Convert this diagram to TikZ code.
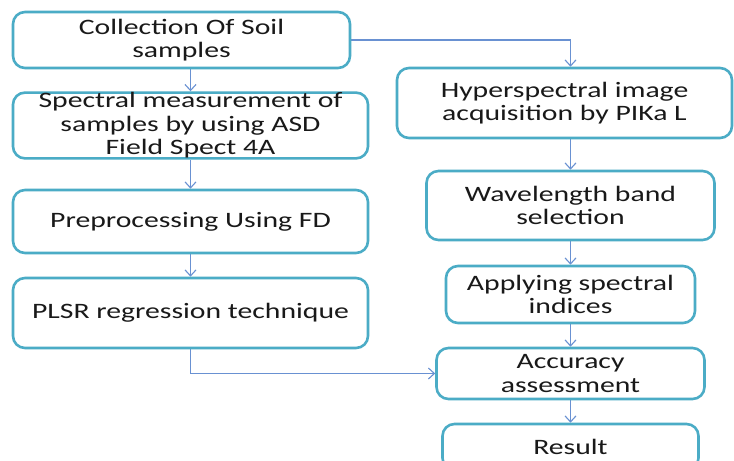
\documentclass[tikz,border=0pt]{standalone}
\usepackage{fontspec}
\setmainfont{Carlito}[FakeStretch=1.35]
\usepackage{tikz}
\usetikzlibrary{arrows.meta}
\definecolor{boxline}{RGB}{75,172,198}
\definecolor{flowline}{RGB}{105,145,210}
\tikzstyle{box}=[fill=white, draw=boxline, line width=2.6bp, rounded corners=12bp, align=center, inner sep=0pt, text=black!90, font=\fontsize{22bp}{23.5bp}\selectfont]
\tikzstyle{flow}=[-{Straight Barb[length=6bp,width=11bp]}, draw=flowline, line width=1.1bp]
\pgfdeclarelayer{nodelayer}
\pgfdeclarelayer{edgelayer}
\pgfsetlayers{main,edgelayer,nodelayer}

\begin{document}
\begin{tikzpicture}[x=1bp, y=-1bp]
	\fill [white] (0,0) rectangle (734,461);
	\useasboundingbox (0,0) rectangle (734,461);
	\begin{pgfonlayer}{nodelayer}
		\node [style=box, minimum width=337bp, minimum height=56bp] (1) at (181.5, 40) {Collection Of Soil\\samples};
		\node [style=box, minimum width=355bp, minimum height=63bp] (2) at (190.5, 125.5) {Spectral measurement of\\samples by using ASD\\Field Spect 4A};
		\node [style=box, minimum width=355bp, minimum height=63bp] (3) at (190.5, 221.5) {Preprocessing Using FD};
		\node [style=box, minimum width=355bp, minimum height=70bp] (4) at (190.5, 313) {PLSR regression technique};
		\node [style=box, minimum width=335bp, minimum height=70bp] (5) at (564.5, 103) {Hyperspectral image\\acquisition by PIKa L};
		\node [style=box, minimum width=288bp, minimum height=69bp] (6) at (570.5, 205.5) {Wavelength band\\selection};
		\node [style=box, minimum width=249bp, minimum height=57bp] (7) at (570.5, 294.5) {Applying spectral\\indices};
		\node [style=box, minimum width=268bp, minimum height=51bp] (8) at (570.5, 373.5) {Accuracy\\assessment};
		\node [style=box, minimum width=256bp, minimum height=46bp] (9) at (570.5, 447) {Result};
	\end{pgfonlayer}
	\begin{pgfonlayer}{edgelayer}
		\draw [style=flow] (2.north |- 1.south) -- (2.north);
		\draw [style=flow] (2) -- (3);
		\draw [style=flow] (3) -- (4);
		\draw [style=flow] (4.south) |- (8.west);
		\draw [style=flow] (1.east) -| (6.north |- 5.north);
		\draw [style=flow] (6.north |- 5.south) -- (6.north);
		\draw [style=flow] (6) -- (7);
		\draw [style=flow] (7) -- (8);
		\draw [style=flow] (8) -- (9);
	\end{pgfonlayer}
\end{tikzpicture}
\end{document}
